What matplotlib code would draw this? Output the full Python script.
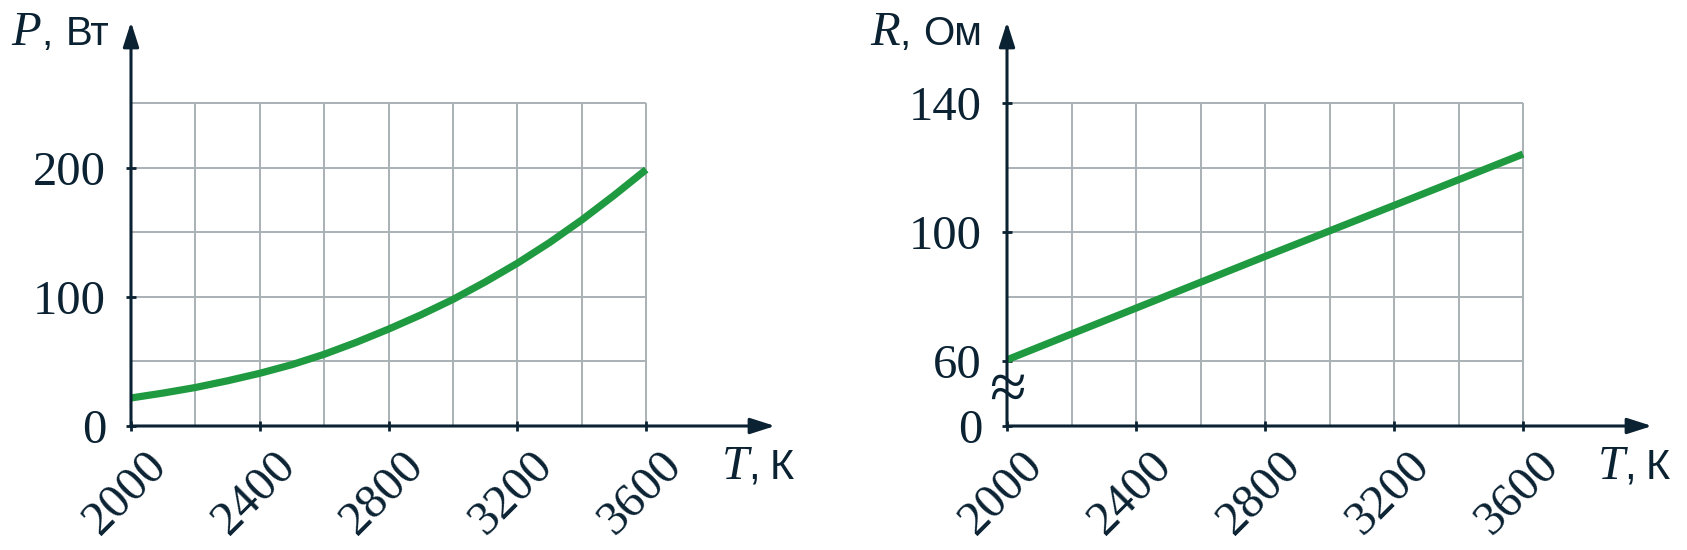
import matplotlib.pyplot as plt
from matplotlib import transforms

# data
T_grid = [2000, 2200, 2400, 2600, 2800, 3000, 3200, 3400, 3600]
T_ticks = [2000, 2400, 2800, 3200, 3600]
T_labels = ['2000', '2400', '2800', '3200', '3600']

P_T = [2000, 2100, 2200, 2300, 2400, 2500, 2600, 2700, 2800,
       2900, 3000, 3100, 3200, 3300, 3400, 3500, 3600]
P_vals = [21.7, 25.5, 29.8, 35, 40.8, 47.5, 55.5, 64.8, 75,
          86, 98, 111.5, 126, 142, 159.5, 178.5, 198.5]
P_grid = [50, 100, 150, 200, 250]
P_ticks = [0, 100, 200]
P_labels = ['0', '100', '200']

R_T = [2000, 2400, 2800, 3200, 3600]
R_vals = [60.5, 76.5, 92.5, 108.3, 124.2]
R_grid = [60, 80, 100, 120, 140]
R_ticks = [40, 60, 100, 140]        # 40 sits on the broken axis, shown as "0"
R_labels = ['0', '60', '100', '140']

W, H = 1687, 550
dark = '#0b2233'
gridc = '#a9b1b6'
green = '#1f9a40'
serif = 'Liberation Serif'
sans = 'Liberation Sans'

fig = plt.figure(figsize=(W / 100, H / 100), dpi=100)


def px_axes(x0, x1, ytop, ybot):
    return fig.add_axes([x0 / W, 1 - ybot / H, (x1 - x0) / W, (ybot - ytop) / H])


def panel(ax, ylo, yhi, ytop, xs, ys, ygrid, yticks, ylabels):
    ax.set_xlim(2000, 4000)
    ax.set_ylim(ylo, ytop)
    for s in ax.spines.values():
        s.set_visible(False)
    ax.vlines(T_grid[1:], ylo, yhi, color=gridc, lw=1.4, zorder=1)
    ax.hlines(ygrid, 2000, 3600, color=gridc, lw=1.4, zorder=1)
    ax.plot(xs, ys, color=green, lw=5.2, solid_capstyle='butt', zorder=3)
    arrow = dict(arrowstyle='-|>,head_length=0.75,head_width=0.24', mutation_scale=20,
                 lw=2.2, color=dark, shrinkA=0, shrinkB=0)
    ax.annotate('', xy=(4000, ylo), xytext=(2000, ylo), arrowprops=arrow, annotation_clip=False, zorder=4)
    ax.annotate('', xy=(2000, ytop), xytext=(2000, ylo), arrowprops=arrow, annotation_clip=False, zorder=4)
    ax.set_xticks(T_ticks)
    ax.set_yticks(yticks)
    ax.set_xticklabels([])
    ax.set_yticklabels([])
    ax.tick_params(direction='inout', length=7, width=2, color=dark)
    tx = transforms.offset_copy(ax.transData, fig, x=-9, y=-64, units='dots')
    for t, lab in zip(T_ticks, T_labels):
        ax.text(t, ylo, lab, transform=tx, rotation=45, rotation_mode='anchor',
                ha='center', va='center_baseline', fontsize=35, family=serif, color=dark)
    ty = transforms.offset_copy(ax.transData, fig, x=-25, y=0, units='dots')
    for v, lab in zip(yticks, ylabels):
        ax.text(2000, v, lab, transform=ty, ha='right', va='center_baseline',
                fontsize=35, family=serif, color=dark)


ax1 = px_axes(131, 775, 22, 426)
panel(ax1, 0, 250, 312.7, P_T, P_vals, P_grid, P_ticks, P_labels)

ax2 = px_axes(1007, 1652, 22, 426)
panel(ax2, 40, 140, 165.1, R_T, R_vals, R_grid, R_ticks, R_labels)
ax2.text(2000, 50.5, '≈', ha='center', va='center', fontsize=48, family=serif, color=dark, zorder=5)


def label(x, y, sym, xc, xu, unit, usize):
    fig.text(x / W, 1 - y / H, sym, fontsize=35, family=serif, style='italic', color=dark, va='baseline')
    fig.text(xc / W, 1 - y / H, ',', fontsize=usize, family=sans, color=dark, va='baseline')
    fig.text(xu / W, 1 - y / H, unit, fontsize=usize, family=sans, color=dark, va='baseline')


label(11, 45, 'P', 41, 66, 'Вт', 29)
label(870, 45, 'R', 899, 923, 'Ом', 29)
label(722, 479, 'T', 748, 770, 'К', 30)
label(1598, 479, 'T', 1624, 1646, 'К', 30)

fig.savefig('out.png', dpi=100)
